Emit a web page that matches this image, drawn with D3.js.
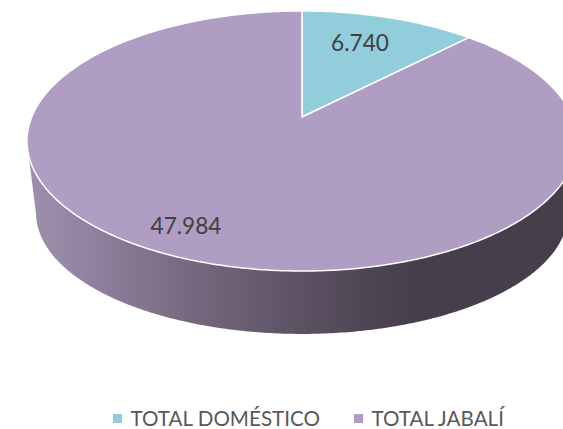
<!DOCTYPE html>
<html>
<head>
<meta charset="utf-8">
<script src="https://cdn.jsdelivr.net/npm/d3@7"></script>
<style>
    body { margin: 0; background: #fff; }
    svg { display: block; }
    text { font-family: Lato, "Open Sans", sans-serif; }
</style>
</head>
<body>
<div id="chart"></div>
<script>
var categories = ["TOTAL DOMÉSTICO", "TOTAL JABALÍ"];
var values = [6740, 47984];
var valueLabels = ["6.740", "47.984"];
var colors = ["#92CDDC", "#B09DC4"];

var svgWidth = 563;
var svgHeight = 429;

// the pie is tilted with some perspective, so the centre is not the middle of the ellipse
var centerX = 302;
var centerY = 117;
var radiusX = 270.3;
var radiusY = 125.6;
var tilt = 0.1846;

function project(angle, r) {
    var u = Math.sin(angle) * r;
    var v = Math.cos(angle) * r;
    var w = 1 + tilt * v;
    return [centerX + radiusX * u / w, centerY - radiusY * v / w];
}

// same circle, further down, narrower and flatter, for the bottom of the disc
function projectBottom(angle) {
    var p = project(angle, 1);
    return [centerX + (p[0] - centerX) * 0.967, 141 + (p[1] - 141) * 0.93 + 72];
}

var svg = d3.select("#chart")
    .append("svg")
    .attr("width", svgWidth)
    .attr("height", svgHeight);

var line = d3.line();

// gradient on the side wall
var grad = svg.append("defs").append("linearGradient")
    .attr("id", "wall")
    .attr("gradientUnits", "userSpaceOnUse")
    .attr("x1", 30).attr("x2", 563)
    .attr("y1", 0).attr("y2", 0);

[[0, "#9E8FAD"], [0.1, "#9283A0"], [0.3, "#75697F"], [0.55, "#574D5E"], [0.72, "#463E4B"], [1, "#463E4B"]]
    .forEach(function (s) {
        grad.append("stop").attr("offset", s[0]).attr("stop-color", s[1]);
    });

// side wall, from the right edge round the front to the left edge
var wallAngles = d3.range(Math.PI * 0.56, Math.PI * 1.44, 0.01);
var wallPts = wallAngles.map(function (a) { return project(a, 1); })
    .concat(wallAngles.slice().reverse().map(projectBottom));

svg.append("path")
    .attr("d", line(wallPts) + "Z")
    .attr("fill", "url(#wall)");

// slices
var pie = d3.pie().sort(null).value(function (d) { return d; });
var slices = pie(values);

svg.selectAll(".slice")
    .data(slices)
    .enter()
    .append("path")
    .attr("class", "slice")
    .attr("d", function (d) {
        var pts = [[centerX, centerY]];
        var n = Math.ceil((d.endAngle - d.startAngle) / 0.01);
        for (var i = 0; i <= n; i++) {
            pts.push(project(d.startAngle + (d.endAngle - d.startAngle) * i / n, 1));
        }
        return line(pts) + "Z";
    })
    .attr("fill", function (d, i) { return colors[i]; })
    .attr("stroke", "#fff")
    .attr("stroke-width", 1.5)
    .attr("stroke-linejoin", "round");

// data labels
var labelPos = [[360, 43], [186, 226]];

svg.selectAll(".value")
    .data(valueLabels)
    .enter()
    .append("text")
    .attr("class", "value")
    .attr("x", function (d, i) { return labelPos[i][0]; })
    .attr("y", function (d, i) { return labelPos[i][1]; })
    .attr("dy", "0.35em")
    .attr("text-anchor", "middle")
    .attr("font-size", 22.6)
    .attr("fill", "#404040")
    .text(function (d) { return d; });

// legend
var legendX = [112, 353];

var legend = svg.selectAll(".legend")
    .data(categories)
    .enter()
    .append("g")
    .attr("class", "legend")
    .attr("transform", function (d, i) { return "translate(" + legendX[i] + ", 419)"; });

legend.append("rect")
    .attr("x", 1)
    .attr("y", -5)
    .attr("width", 9)
    .attr("height", 9)
    .attr("fill", function (d, i) { return colors[i]; });

legend.append("text")
    .attr("x", 18.5)
    .attr("y", 0)
    .attr("dy", "0.35em")
    .attr("font-size", 20.6)
    .attr("fill", "#595959")
    .text(function (d) { return d; });
</script>
</body>
</html>
